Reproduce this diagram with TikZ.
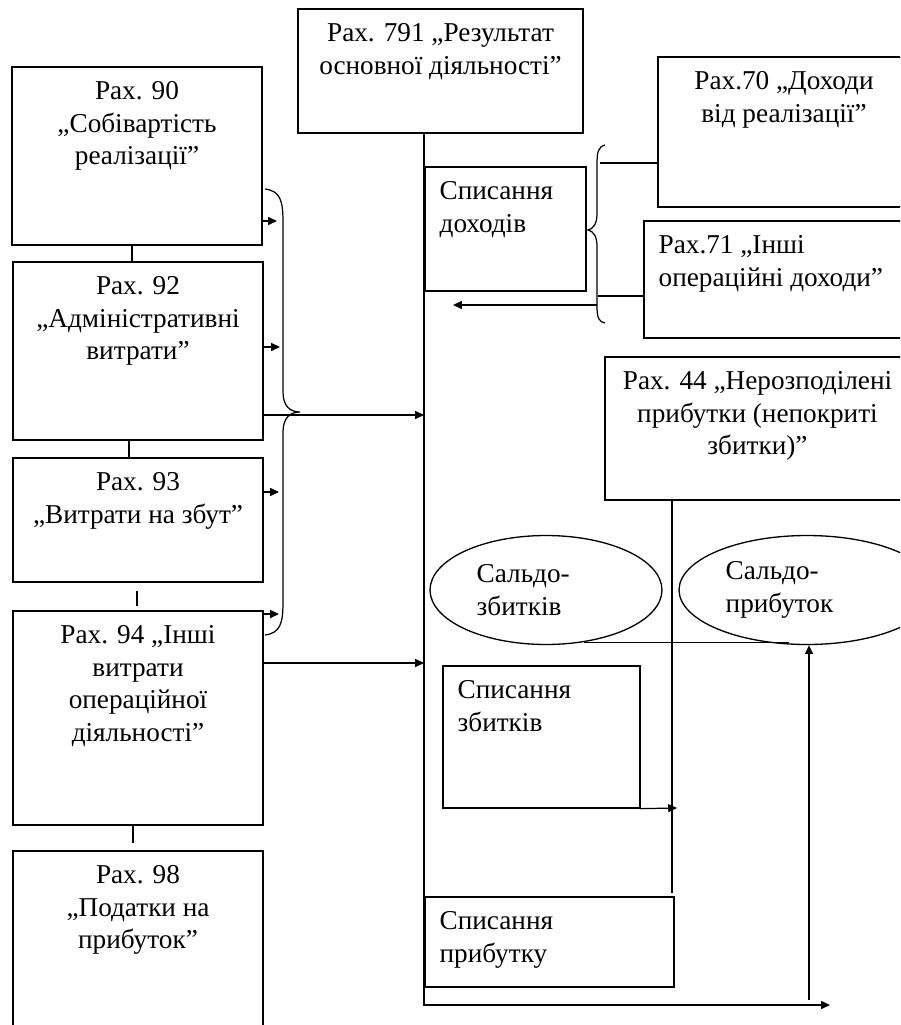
\documentclass[tikz,border=0pt]{standalone}
\usepackage{fontspec}
\setmainfont{Liberation Serif}
\usetikzlibrary{shapes.geometric, arrows.meta, positioning, calc}

\begin{document}
\begin{tikzpicture}[
    x=0.02cm, y=-0.02cm,
    every node/.style={font=\fontsize{15.5}{18.5}\selectfont},
    acct/.style={rectangle, draw, line width=0.75pt, inner sep=0pt},
    saldo/.style={ellipse, draw, line width=0.75pt, inner sep=0pt},
    ctext/.style={anchor=north, align=center, inner sep=0pt, yshift=-8.5pt},
    ltext/.style={anchor=north west, align=left, inner sep=0pt, xshift=8.5pt, yshift=-8.5pt},
    stext/.style={anchor=west, align=left, inner sep=0pt, xshift=0.94cm},
    link/.style={line width=0.7pt},
    arrow/.style={-{Triangle[length=5pt, width=4.5pt]}, line width=0.7pt}
]
\clip (0,0) rectangle (900,1025);

% left column
\node[acct, minimum width=5cm, minimum height=3.56cm, label={[ctext]north:{Рах. 90\\„Собівартість\\реалізації”}}] (r90) at (137,156) {};
\node[acct, minimum width=5cm, minimum height=3.56cm, label={[ctext]north:{Рах. 92\\„Адміністративні\\витрати”}}] (r92) at (138,351) {};
\node[acct, minimum width=5cm, minimum height=2.48cm, label={[ctext]north:{Рах. 93\\„Витрати на збут”}}] (r93) at (138,520) {};
\node[acct, minimum width=5cm, minimum height=4.28cm, label={[ctext]north:{Рах. 94 „Інші\\витрати\\операційної\\діяльності”}}] (r94) at (138,718) {};
\node[acct, minimum width=5cm, minimum height=3.8cm, label={[ctext]north:{Рах. 98\\„Податки на\\прибуток”}}] (r98) at (138,946) {};

% middle and right
\node[acct, minimum width=5.7cm, minimum height=2.48cm, label={[ctext]north:{Рах. 791 „Результат\\основної діяльності”}}] (r791) at (440.5,71) {};
\node[acct, minimum width=5.04cm, minimum height=3cm, label={[ctext]north:{Рах.70 „Доходи\\від реалізації”}}] (r70) at (784,132) {};
\node[acct, minimum width=5.32cm, minimum height=2.34cm, label={[ltext]north west:{Рах.71 „Інші\\операційні доходи”}}] (r71) at (777,279.5) {};
\node[acct, minimum width=3.22cm, minimum height=2.48cm, label={[ltext]north west:{Списання\\доходів}}] (sdoh) at (505.5,229) {};
\node[acct, minimum width=6.1cm, minimum height=2.86cm, label={[ctext]north:{Рах. 44 „Нерозподілені\\прибутки (непокриті\\збитки)”}}] (r44) at (757.5,428.5) {};
\node[saldo, minimum width=4.64cm, minimum height=2.18cm, label={[stext]west:{Сальдо-\\збитків}}] (szb) at (546,590) {};
\node[saldo, minimum width=5.12cm, minimum height=2.18cm, label={[stext]west:{Сальдо-\\прибуток}}] (spr) at (807,590) {};
\node[acct, minimum width=3.94cm, minimum height=2.84cm, label={[ltext]north west:{Списання\\збитків}}] (szk) at (541.5,737) {};
\node[acct, minimum width=4.98cm, minimum height=1.8cm, label={[ltext]north west:{Списання\\прибутку}}] (sprb) at (549.5,942) {};

\coordinate (top) at (r791.south -| 424,0);
\coordinate (bottom) at (424,1005);
\coordinate (wrdoh) at (453,305);

% links between the left boxes
\draw[link] (r90.south -| 132,0) -- (r92.north -| 132,0);
\draw[link] (r92.south -| 129,0) -- (r93.north -| 129,0);
\draw[link] ($(r93.south -| 137,0)+(0,8)$) -- ($(r94.north -| 137,0)+(0,-4)$);
\draw[link] (r94.south -| 133,0) -- ($(r98.north -| 133,0)+(0,-7)$);

% brace on the left
\draw[link] (265,189) .. controls (280,191) and (283,200) .. (283,222) -- (283,392)
    .. controls (283,406) and (290,412) .. (300,412)
    .. controls (290,412) and (283,418) .. (283,432) -- (283,602)
    .. controls (283,624) and (280,633) .. (265,635);
\draw[arrow] (r90.east |- 0,221) -- (277,221);
\draw[arrow] (r92.east |- 0,347) -- (280,347);
\draw[arrow] (r93.east |- 0,492) -- (279,492);
\draw[arrow] (r94.east |- 0,614) -- (279,614);
\draw[arrow] (r92.east |- 0,415) -- (top |- 0,415);
\draw[arrow] (r94.east |- 0,663) -- (top |- 0,663);

% brace on the right
\draw[link] (605,145) .. controls (598,147) and (597,152) .. (597,165) -- (597,214)
    .. controls (597,224) and (593,229) .. (588,230)
    .. controls (593,231) and (597,236) .. (597,246) -- (597,306)
    .. controls (597,318) and (599,322) .. (605,323);
\draw[link] (600,163) -- (600,163 -| r70.west);
\draw[link] (598,296) -- (598,296 -| r71.west);
\draw[arrow] (597,305) -- (wrdoh);

% result
\draw[arrow] (top) -- (bottom) -- (830,1005);
\draw[link] (r44.south -| 672,0) -- (672,893);
\draw[link] (szb.306) -- (szb.306 -| spr.252);
\draw[arrow] (809,1000) -- (spr.south -| 809,0);
\draw[arrow] (szk.south east) -- (677,808);
\end{tikzpicture}
\end{document}
